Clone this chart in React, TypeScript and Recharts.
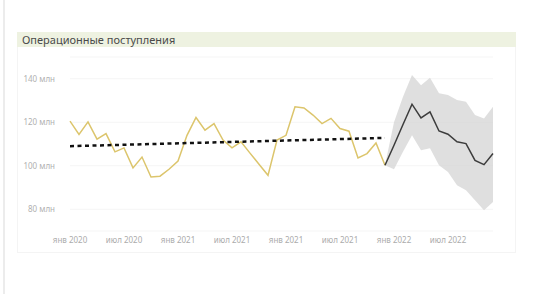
import React from "react";
import { ComposedChart, Line, Area, XAxis, YAxis, CartesianGrid } from "recharts";

const tickLabels = ["янв 2020", "июл 2020", "янв 2021", "июл 2021", "янв 2021", "июл 2021", "янв 2022", "июл 2022"];
const tickIndexes = [0, 6, 12, 18, 24, 30, 36, 42];
const yTicks = [80, 100, 120, 140];

const actual = [
  120.5, 114.4, 120.2, 112.2, 114.8, 106.4, 108.2, 99, 104, 94.8, 95.2, 98.4,
  102.2, 114, 122.2, 116.4, 119.4, 111.8, 108.2, 111, 105.8, 100.7, 95.6, 111.8,
  114, 127.1, 126.6, 123.3, 119.4, 121.8, 117.1, 115.9, 103.6, 105.6, 110.5, 100.2,
];
const forecastStart = 35;
const forecast = [100.2, 109.4, 119, 128.3, 122, 124.8, 116, 114.5, 111, 110.2, 102.5, 100.5, 105.6];
const bandHigh = [100.2, 120, 131.7, 141.7, 137, 140.5, 133.3, 132.5, 130.2, 129.4, 123.3, 121.7, 127.1];
const bandLow = [100.2, 98.4, 106.4, 114, 107.1, 108, 100.2, 97.1, 91, 88.7, 84.1, 79.5, 83.3];
const trendStart = 109;
const trendEnd = 112.8;

const total = forecastStart + forecast.length;
const data = Array.from({ length: total }, (_, i) => {
  const f = i - forecastStart;
  return {
    i,
    actual: i < actual.length ? actual[i] : null,
    forecast: f >= 0 ? forecast[f] : null,
    band: f >= 0 ? [bandLow[f], bandHigh[f]] : null,
    trend: i === 0 ? trendStart : i === actual.length - 1 ? trendEnd : null,
  };
});

const font = "'Noto Sans', 'DejaVu Sans', sans-serif";

export default function App() {
  return (
    <div style={{ position: "absolute", left: 0, top: 0, width: 547, height: 294, background: "#fff", fontFamily: font, overflow: "hidden" }}>
      <div style={{ position: "absolute", left: 3, top: 0, width: 2, height: 294, background: "#ececec" }} />
      <div style={{ position: "absolute", left: 17, top: 32, width: 499, height: 221, border: "1px solid #f4f4f4", boxSizing: "border-box" }} />
      <div style={{ position: "absolute", left: 17, top: 32, width: 499, height: 15, background: "#eef2e1" }} />
      <div style={{ position: "absolute", left: 22, top: 31, fontSize: 11, lineHeight: "17px", color: "#4a4a4a", whiteSpace: "nowrap" }}>
        Операционные поступления
      </div>
      <div style={{ position: "absolute", left: 0, top: 0 }}>
        <ComposedChart width={547} height={294} data={data} margin={{ top: 57, right: 54, bottom: 33, left: 0 }}>
          <CartesianGrid horizontal vertical={false} stroke="#f5f5f5" />
          <XAxis
            type="number"
            dataKey="i"
            domain={[0, total - 1]}
            ticks={tickIndexes}
            tickFormatter={(v: number) => tickLabels[tickIndexes.indexOf(v)]}
            axisLine={false}
            tickLine={false}
            tickMargin={0}
            height={30}
            interval={0}
            tick={{ fill: "#ababab", fontSize: 8, fontFamily: font }}
          />
          <YAxis
            type="number"
            domain={[70, 150]}
            ticks={yTicks}
            tickFormatter={(v: number) => `${v} млн`}
            axisLine={false}
            tickLine={false}
            width={70}
            tickMargin={9}
            tick={{ fill: "#b0b0b0", fontSize: 8, fontFamily: font }}
          />
          <Area dataKey="band" stroke="none" fill="#d4d4d4" fillOpacity={0.75} isAnimationActive={false} connectNulls={false} />
          <Line dataKey="actual" stroke="#dcc56c" strokeWidth={1.5} dot={false} isAnimationActive={false} />
          <Line dataKey="forecast" stroke="#3c3c3c" strokeWidth={1.5} dot={false} isAnimationActive={false} />
          <Line dataKey="trend" stroke="#111" strokeWidth={2.5} strokeDasharray="4 3.5" dot={false} connectNulls isAnimationActive={false} />
        </ComposedChart>
      </div>
    </div>
  );
}
